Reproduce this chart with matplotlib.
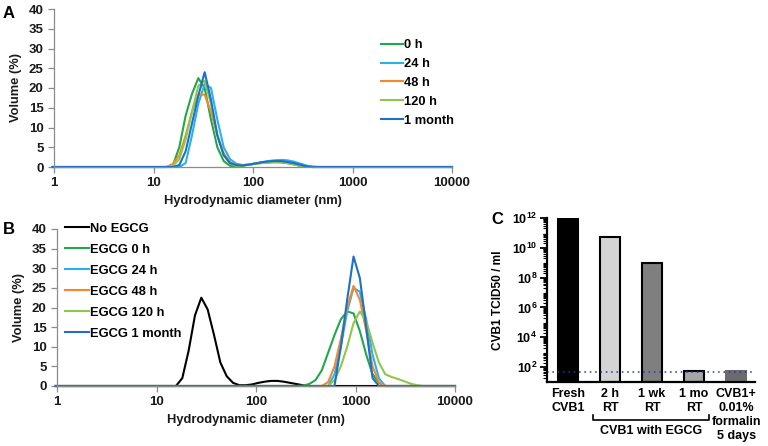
import matplotlib
matplotlib.use("Agg")
import matplotlib.pyplot as plt
import numpy as np
from matplotlib.transforms import blended_transform_factory

plt.rcParams['font.family'] = ['Liberation Sans', 'DejaVu Sans']
plt.rcParams['font.weight'] = 'bold'
plt.rcParams['mathtext.fontset'] = 'custom'
plt.rcParams['mathtext.rm'] = 'Liberation Sans:bold'
plt.rcParams['mathtext.bf'] = 'Liberation Sans:bold'
plt.rcParams['mathtext.it'] = 'Liberation Sans:bold'

FS = 9.3   # general text size
TS = 9.0   # tick label size

# DLS size bins (nm)
bins = [0.9649, 1.117, 1.294, 1.499, 1.736, 2.010, 2.328, 2.696, 3.122, 3.615, 4.187,
        4.849, 5.615, 6.503, 7.531, 8.721, 10.10, 11.70, 13.54, 15.69, 18.17, 21.04,
        24.36, 28.21, 32.67, 37.84, 43.82, 50.75, 58.77, 68.06, 78.82, 91.28, 105.7,
        122.4, 141.8, 164.2, 190.1, 220.2, 255.0, 295.3, 342.0, 396.1, 458.7, 531.2,
        615.1, 712.4, 825.0, 955.4, 1106, 1281, 1484, 1718, 1990, 2305, 2669, 3091,
        3580, 4145, 4801, 5560, 6439, 7456, 8635, 10000]

# Panel A: values from bin 13.54 nm onward (index 18), zero elsewhere
A_start = 18
A_labels = ['0 h', '24 h', '48 h', '120 h', '1 month']
A_0h   = [0, 0.5, 5, 13, 18.5, 22.5, 20, 12, 5, 1.5, 0.3, 0.1, 0.3, 0.6, 0.9, 1.1, 1.2, 1.3, 1.2, 1.0, 0.7, 0.3, 0.1, 0]
A_24h  = [0, 0, 0, 1, 8, 16, 21, 20, 12, 5, 2, 0.8, 0.5, 0.6, 0.9, 1.2, 1.5, 1.7, 1.8, 1.7, 1.4, 0.9, 0.4, 0.1, 0]
A_48h  = [0, 0.8, 3, 8, 14, 18.3, 18.3, 14, 8, 3.5, 1.2, 0.5, 0.5, 0.6, 0.8, 1.0, 1.2, 1.2, 1.2, 1.0, 0.7, 0.4, 0.1, 0]
A_120h = [0, 0.3, 2, 7, 14, 20.5, 21.8, 16, 8, 3, 0.8, 0.3, 0.4, 0.6, 0.8, 1.0, 1.1, 1.2, 1.2, 1.0, 0.7, 0.3, 0.1, 0]
A_1mo  = [0, 0, 0.5, 4, 11, 18, 24, 17, 8, 3, 1, 0.5, 0.4, 0.6, 0.9, 1.2, 1.4, 1.5, 1.5, 1.3, 1.0, 0.6, 0.2, 0]

# Panel B
B_labels = ['No EGCG', 'EGCG 0 h', 'EGCG 24 h', 'EGCG 48 h', 'EGCG 120 h', 'EGCG 1 month']
B_noegcg_start = 19  # 15.69 nm
B_noegcg = [0, 2, 9, 18, 22.5, 19.5, 13, 6, 2.5, 0.8, 0.2, 0.2, 0.4, 0.8, 1.1, 1.3, 1.3, 1.1, 0.8, 0.5, 0.2, 0]
B_0h_start = 39  # 295.3 nm
B_0h   = [0.1, 0.5, 1.5, 4, 8.5, 13, 17, 19, 18.5, 14, 8, 3, 0.8, 0]
B_24h_start = 43  # 531.2 nm
B_24h  = [0, 3, 10, 19, 25, 24, 17, 8, 2, 0]
B_48h_start = 43
B_48h  = [1, 5, 12, 20, 25.5, 22, 14, 5, 1, 0]
B_120h_start = 43
B_120h = [0, 1.5, 5, 10, 16, 19, 16.5, 11, 6, 3, 2.3, 1.8, 1.2, 0.6, 0.2, 0]
B_1mo_start = 44  # 615.1 nm
B_1mo  = [0, 10, 22, 33, 27.5, 15, 2, 0]

# Panel C
C_cats = ['Fresh\nCVB1', '2 h\nRT', '1 wk\nRT', '1 mo\nRT', 'CVB1+\n0.01%\nformalin\n5 days']
C_vals = [1e12, 5.4e10, 1e9, 46, 46]
C_detect = 50
C_colors = ['#000000', '#d4d4d4', '#7f7f7f', '#a6a6a6', '#6b6b6b']
C_edges = ['#000000', '#000000', '#000000', '#000000', '#6b6b6b']

A_colors = ['#20a84a', '#27b2ef', '#f5892a', '#8cc84b', '#1f6fc8']
B_colors = ['#000000'] + A_colors


def full(start, vals):
    y = [0.0] * len(bins)
    for i, v in enumerate(vals):
        y[start + i] = v
    return y


W, H = 768, 446
fig = plt.figure(figsize=(W / 100, H / 100), dpi=100)


def style_dls(ax):
    ax.set_xscale('log')
    ax.set_xlim(1, 10000)
    ax.set_ylim(0, 40)
    ax.set_yticks(range(0, 41, 5))
    ax.set_xticks([1, 10, 100, 1000, 10000])
    ax.set_xticklabels(['1', '10', '100', '1000', '10000'])
    ax.xaxis.set_minor_locator(matplotlib.ticker.NullLocator())
    for s in ['top', 'right']:
        ax.spines[s].set_visible(False)
    for s in ['left', 'bottom']:
        ax.spines[s].set_color('#8c8c8c')
        ax.spines[s].set_linewidth(0.9)
    ax.tick_params(axis='both', colors='#8c8c8c', labelcolor='#1a1a1a', labelsize=TS + 0.5,
                   length=4, width=0.9, direction='out')
    for lab in ax.get_xticklabels() + ax.get_yticklabels():
        lab.set_fontweight('bold')
    ax.set_ylabel('Volume (%)', fontsize=FS, fontweight='bold', color='#1a1a1a', labelpad=5)
    ax.set_xlabel('Hydrodynamic diameter (nm)', fontsize=FS, fontweight='bold', color='#1a1a1a', labelpad=4)


# Panel A
axA = fig.add_axes([54 / W, 1 - 167 / H, (452 - 54) / W, (167 - 9) / H])
A_series = [A_0h, A_24h, A_48h, A_120h, A_1mo]
for lab, vals, c in zip(A_labels, A_series, A_colors):
    axA.plot(bins, full(A_start, vals), color=c, lw=1.5, label=lab, clip_on=False)
style_dls(axA)
leg = axA.legend(loc='upper left', bbox_to_anchor=(0.808, 0.84), frameon=False, fontsize=FS,
                 handlelength=1.75, handletextpad=0.08, labelspacing=0.52, borderaxespad=0)
for t in leg.get_texts():
    t.set_fontweight('bold')

# Panel B
axB = fig.add_axes([57 / W, 1 - 386 / H, (455 - 57) / W, (386 - 229) / H])
B_series = [(B_noegcg_start, B_noegcg), (B_0h_start, B_0h), (B_24h_start, B_24h),
            (B_48h_start, B_48h), (B_120h_start, B_120h), (B_1mo_start, B_1mo)]
for lab, (st, vals), c in zip(B_labels, B_series, B_colors):
    axB.plot(bins, full(st, vals), color=c, lw=1.5, label=lab, clip_on=False)
style_dls(axB)
leg = axB.legend(loc='upper left', bbox_to_anchor=(0.008, 1.073), frameon=False, fontsize=FS,
                 handlelength=1.8, handletextpad=0.1, labelspacing=0.69, borderaxespad=0)
for t in leg.get_texts():
    t.set_fontweight('bold')

# Panel C
axC = fig.add_axes([547 / W, 1 - 382 / H, (755 - 547) / W, (382 - 218) / H])
xs = np.arange(len(C_cats))
axC.bar(xs, C_vals, width=0.47, color=C_colors, edgecolor=C_edges, linewidth=1.5, bottom=10)
axC.set_yscale('log')
axC.set_ylim(10, 1e12)
axC.set_xlim(-0.5, 4.45)
axC.axhline(C_detect, color='#2a2ad0', lw=1.1, ls=(0, (1, 2.5)))
axC.set_yticks([1e2, 1e4, 1e6, 1e8, 1e10, 1e12])
axC.set_yticklabels([r'$10^{2}$', r'$10^{4}$', r'$10^{6}$', r'$10^{8}$', r'$10^{10}$', r'$10^{12}$'])
axC.yaxis.set_minor_locator(matplotlib.ticker.LogLocator(base=10, subs=np.arange(2, 10), numticks=50))
axC.yaxis.set_minor_formatter(matplotlib.ticker.NullFormatter())
axC.set_xticks(xs)
axC.set_xticklabels(C_cats, fontsize=TS, fontweight='bold', linespacing=1.25, va='top')
axC.tick_params(axis='x', length=0, pad=4)
axC.tick_params(axis='y', which='major', length=5, width=1.3, labelsize=TS, pad=2)
axC.tick_params(axis='y', which='minor', length=3, width=0.8)
for s in ['top', 'right']:
    axC.spines[s].set_visible(False)
for s in ['left', 'bottom']:
    axC.spines[s].set_linewidth(1.6)
axC.set_ylabel('CVB1 TCID50 / ml', fontsize=8.6, fontweight='bold', labelpad=6)

tr = blended_transform_factory(axC.transData, axC.transAxes)
axC.plot([0.6, 0.6, 3.36, 3.36], [-0.20, -0.232, -0.232, -0.20], color='black', lw=1.2,
         transform=tr, clip_on=False)
axC.text(1.98, -0.262, 'CVB1 with EGCG', transform=tr, ha='center', va='top',
         fontsize=TS, fontweight='bold')

# Panel letters
fig.text(9 / W, 1 - 13 / H, 'A', fontsize=12, fontweight='bold', va='center', ha='center')
fig.text(9 / W, 1 - 229 / H, 'B', fontsize=12, fontweight='bold', va='center', ha='center')
fig.text(497 / W, 1 - 219 / H, 'C', fontsize=12, fontweight='bold', va='center', ha='center')

fig.savefig('out.png', dpi=100)
